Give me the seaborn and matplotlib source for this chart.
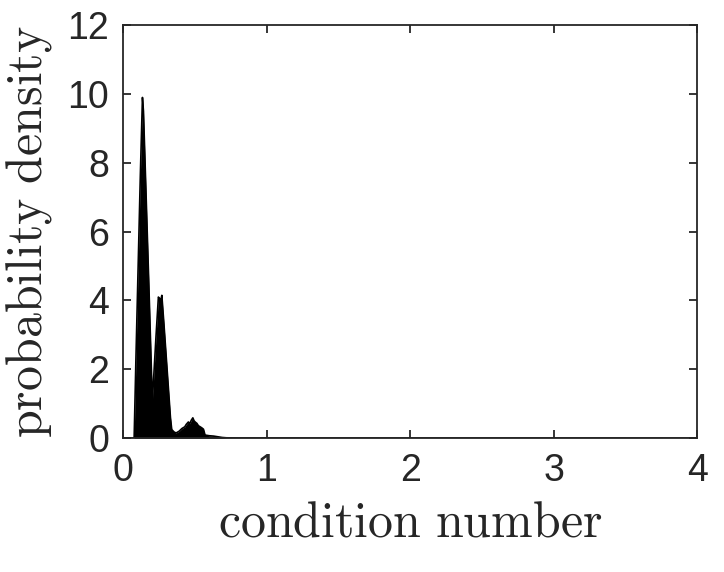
import numpy as np
import pandas as pd
import matplotlib
matplotlib.use("Agg")
import matplotlib.pyplot as plt
import seaborn as sns

# Estimated density curve
cond_number = [0.0, 0.077, 0.09, 0.105, 0.12, 0.135, 0.142, 0.16, 0.18, 0.20, 0.205,
               0.215, 0.23, 0.246, 0.255, 0.262, 0.27, 0.285, 0.30, 0.315, 0.33, 0.339,
               0.355, 0.369, 0.39, 0.41, 0.43, 0.44, 0.455, 0.465, 0.475, 0.486, 0.495,
               0.505, 0.514, 0.525, 0.537, 0.548, 0.56, 0.571, 0.6, 0.63, 0.66, 0.69,
               0.72, 0.8, 1.0, 1.5, 2.0, 3.0, 3.75, 3.76, 4.0]
density = [0.0, 0.0, 2.4, 5.0, 7.6, 9.9, 9.5, 7.1, 4.4, 1.6, 1.16,
           1.9, 3.0, 4.1, 4.05, 4.0, 4.15, 3.3, 2.4, 1.5, 0.6, 0.25,
           0.18, 0.15, 0.2, 0.28, 0.33, 0.4, 0.47, 0.42, 0.52, 0.59, 0.5,
           0.46, 0.43, 0.36, 0.33, 0.3, 0.26, 0.09, 0.07, 0.06, 0.04, 0.02,
           0.01, 0.006, 0.004, 0.003, 0.002, 0.002, 0.001, 0.0, 0.0]

x_ticks = [0, 1, 2, 3, 4]
y_ticks = [0, 2, 4, 6, 8, 10, 12]
x_label = r"$\mathrm{condition\ number}$"
y_label = r"$\mathrm{probability\ density}$"

sns.set_theme(style="white")
plt.rcParams["font.family"] = ["Liberation Sans", "DejaVu Sans"]
plt.rcParams["mathtext.fontset"] = "cm"

df = pd.DataFrame({"x": cond_number, "y": density})

fig = plt.figure(figsize=(7.24, 5.72), dpi=100)
ax = fig.add_axes([0.170, 0.234, 0.793, 0.722])

sns.lineplot(data=df, x="x", y="y", ax=ax, color="black", linewidth=1.2)
ax.fill_between(df["x"], df["y"], 0, color="black", linewidth=0)

ax.set_xlim(0, 4)
ax.set_ylim(0, 12)
ax.set_xticks(x_ticks)
ax.set_yticks(y_ticks)
ax.set_xticklabels([str(t) for t in x_ticks])
ax.set_yticklabels([str(t) for t in y_ticks])

for sp in ax.spines.values():
    sp.set_visible(True)
    sp.set_color("#262626")
    sp.set_linewidth(1.3)

ax.tick_params(axis="both", which="both", direction="in", length=6, width=1.3,
               color="#262626", labelsize=27, labelcolor="#262626",
               top=True, right=True, bottom=True, left=True)
ax.tick_params(axis="x", pad=11)
ax.tick_params(axis="y", pad=10)

ax.set_xlabel(x_label, fontsize=36, color="#262626", labelpad=8)
ax.set_ylabel(y_label, fontsize=36, color="#262626", labelpad=10)

fig.savefig("out.png", dpi=100, facecolor="white")
